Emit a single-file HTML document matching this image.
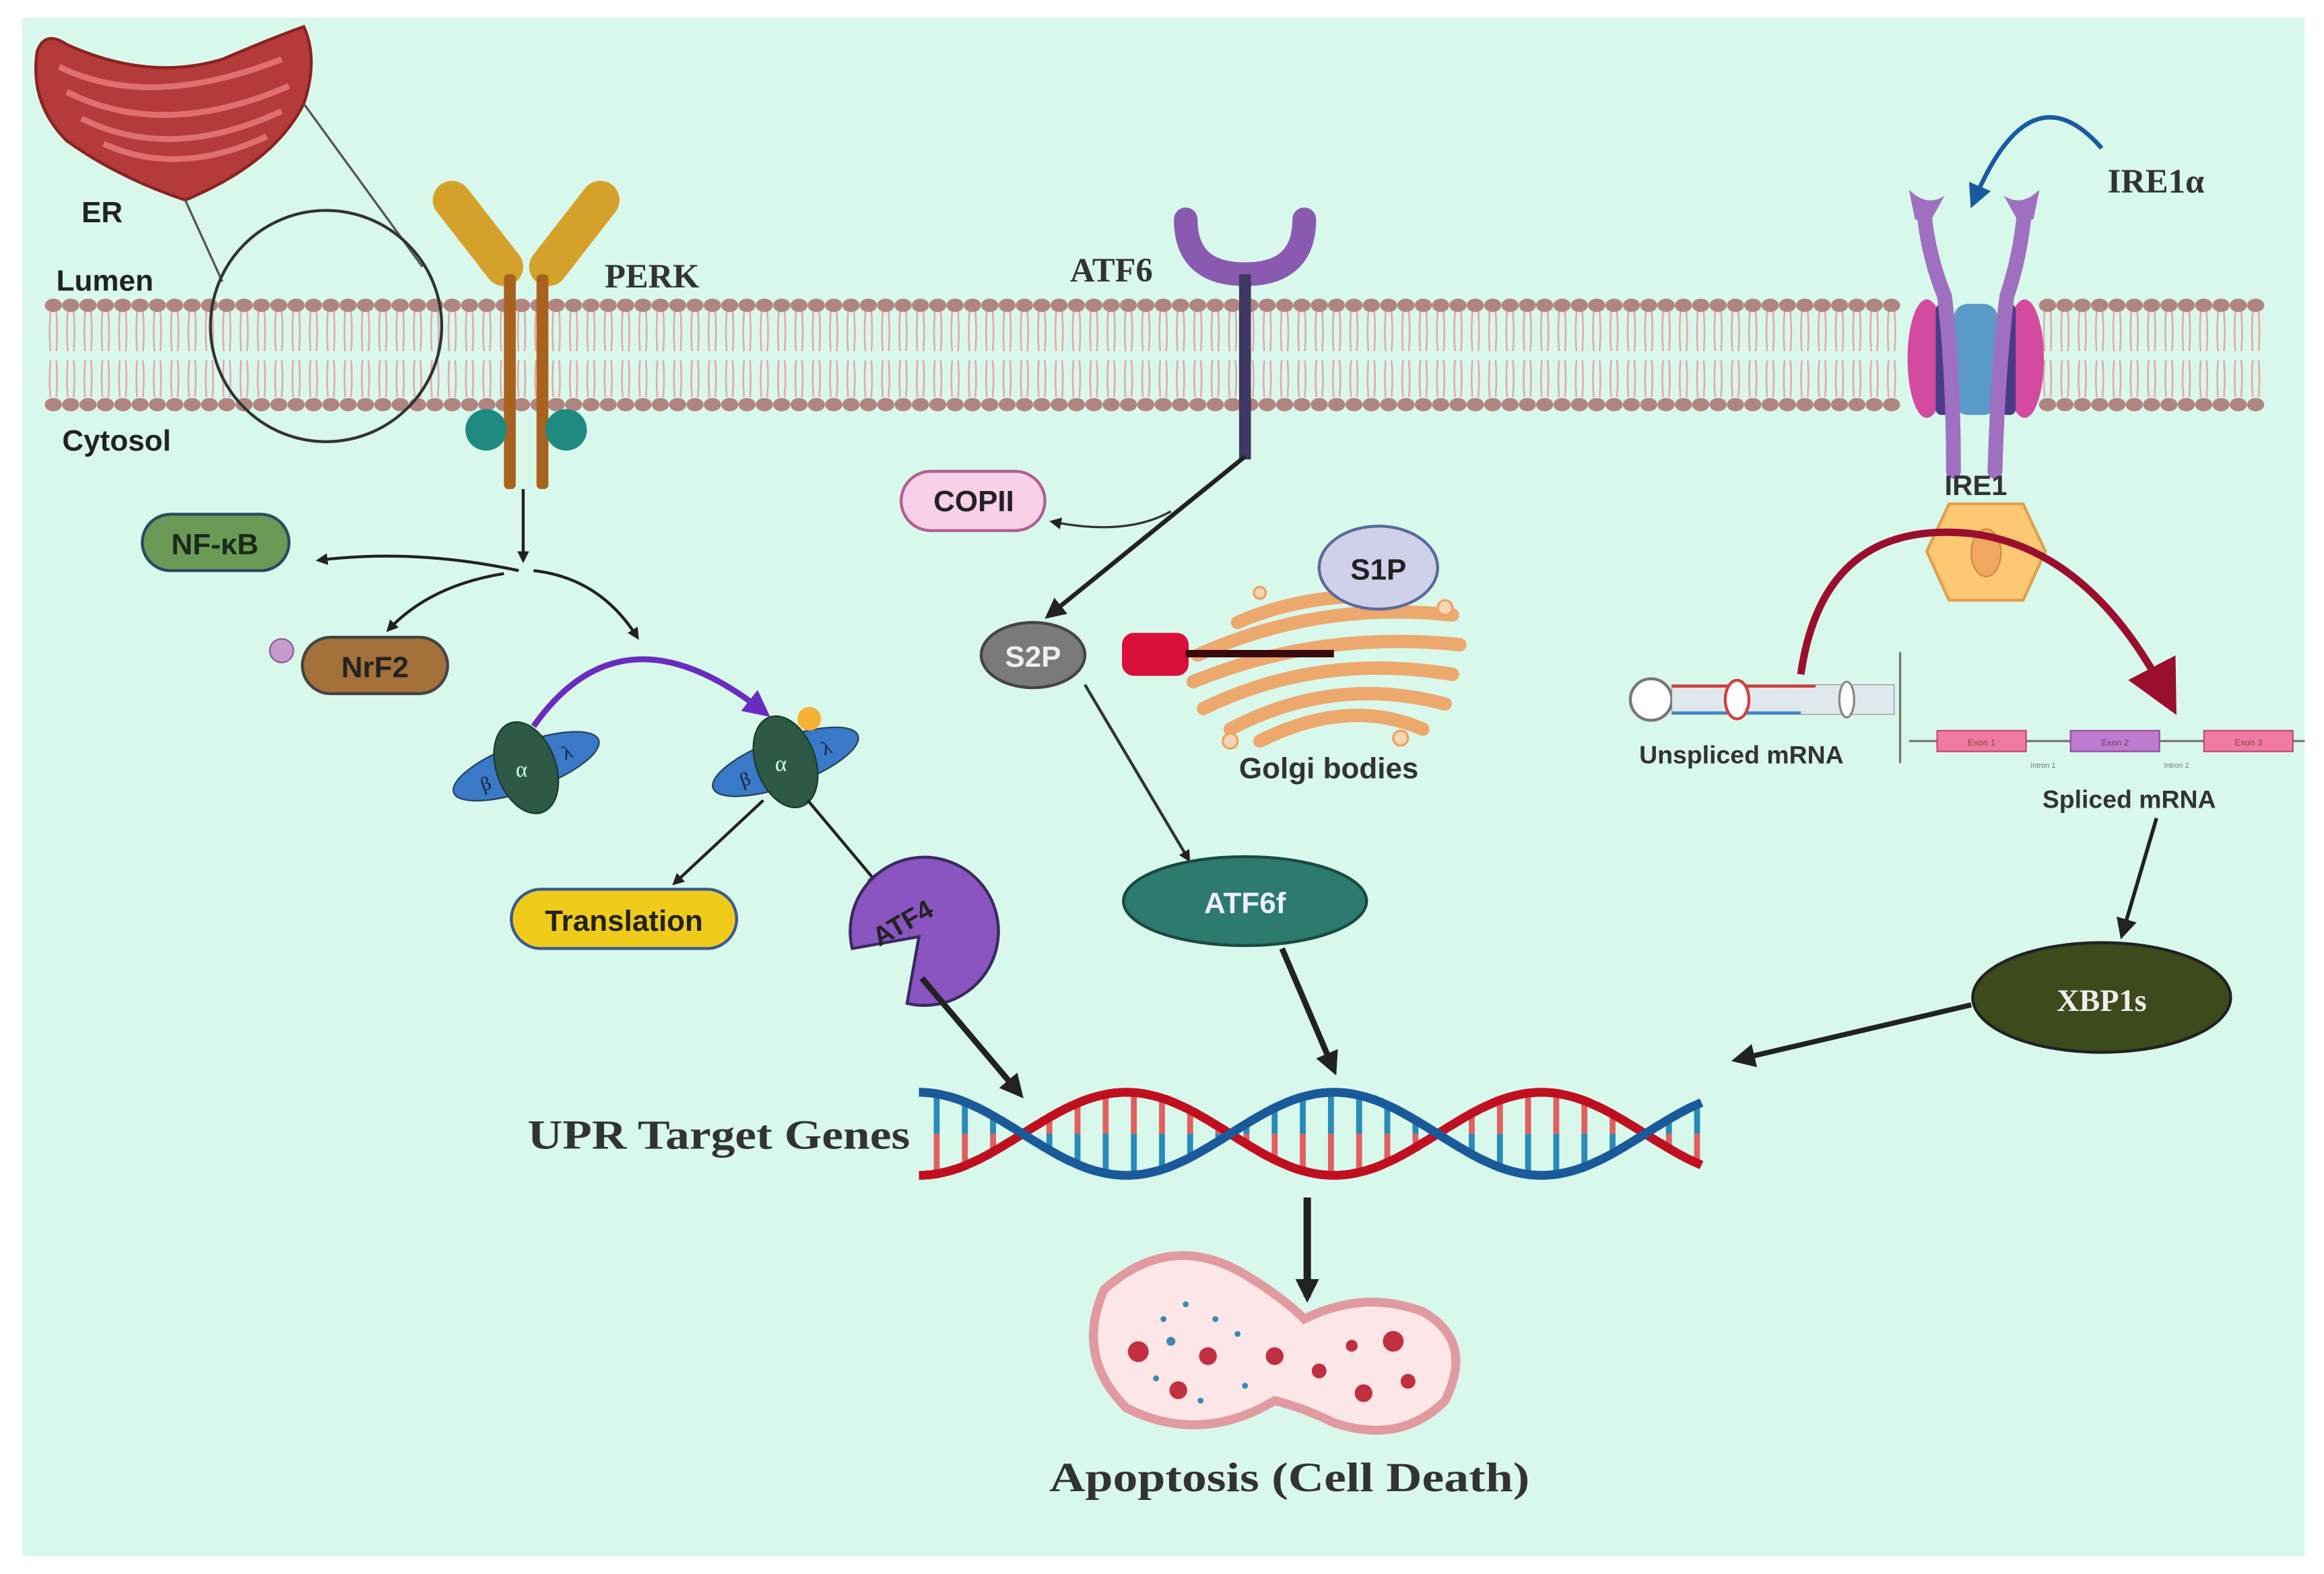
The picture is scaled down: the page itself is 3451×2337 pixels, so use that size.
<!DOCTYPE html>
<html><head><meta charset="utf-8"><style>
html,body{margin:0;padding:0;background:#fff}
svg{display:block}
.sb{font-family:"Liberation Sans",sans-serif;font-weight:bold}
.sf{font-family:"Liberation Serif",serif;font-weight:bold}
</style></head><body>
<svg id="s" width="3451" height="2337" viewBox="0 0 1568 1062" preserveAspectRatio="none" xmlns="http://www.w3.org/2000/svg">
<defs>
<marker id="ah" markerWidth="8" markerHeight="8" refX="6" refY="4" orient="auto" markerUnits="userSpaceOnUse"><path d="M0,0 L8,4 L0,8 Z" fill="#222"/></marker>
<marker id="ahb" markerWidth="16" markerHeight="16" refX="12" refY="8" orient="auto" markerUnits="userSpaceOnUse"><path d="M0,0 L16,8 L0,16 Z" fill="#222"/></marker>
<marker id="ahm" markerWidth="14" markerHeight="14" refX="10" refY="7" orient="auto" markerUnits="userSpaceOnUse"><path d="M0,0 L14,7 L0,14 Z" fill="#222"/></marker>
<marker id="ahp" markerWidth="18" markerHeight="18" refX="12" refY="9" orient="auto" markerUnits="userSpaceOnUse"><path d="M0,0 L18,9 L0,18 Z" fill="#6a2bc0"/></marker>
<marker id="ahr" markerWidth="36" markerHeight="36" refX="22" refY="18" orient="auto" markerUnits="userSpaceOnUse"><path d="M0,0 L36,18 L0,36 Z" fill="#9b0f2e"/></marker>
<marker id="ahbl" markerWidth="16" markerHeight="16" refX="10" refY="8" orient="auto" markerUnits="userSpaceOnUse"><path d="M0,0 L16,8 L0,16 Z" fill="#1a5aa0"/></marker>
</defs>
<rect x="0" y="0" width="1568" height="1062" fill="#fff"/>
<rect x="15" y="12" width="1540" height="1038" fill="#d9f8ec"/>
<g id="mem"></g>

<!-- ER -->
<path d="M25,35 Q30,20 45,30 Q100,55 150,40 Q185,25 205,18 Q215,40 205,70 Q185,110 125,135 Q80,120 45,95 Q20,70 25,35 Z" fill="#b53a3a" stroke="#8a2222" stroke-width="2"/>
<path d="M40,45 Q100,75 190,40 M45,62 Q110,95 195,58 M55,80 Q115,110 190,75 M70,97 Q120,120 180,92" stroke="#e07070" stroke-width="4" fill="none"/>
<line x1="125" y1="135" x2="150" y2="190" stroke="#555" stroke-width="1.5"/>
<line x1="205" y1="70" x2="285" y2="180" stroke="#555" stroke-width="1.5"/>
<circle cx="220" cy="220" r="78" fill="none" stroke="#333" stroke-width="2"/>
<text x="55" y="150" class="sb" font-size="20" fill="#222">ER</text>
<text x="38" y="196" class="sb" font-size="20" fill="#222">Lumen</text>
<text x="42" y="304" class="sb" font-size="20" fill="#222">Cytosol</text>

<!-- PERK -->
<path d="M305,135 L340,180" stroke="#d4a12a" stroke-width="26" stroke-linecap="round"/>
<path d="M405,135 L370,180" stroke="#d4a12a" stroke-width="26" stroke-linecap="round"/>
<rect x="340" y="185" width="8" height="145" rx="3" fill="#a8621e"/>
<rect x="362" y="185" width="8" height="145" rx="3" fill="#a8621e"/>
<circle cx="328" cy="290" r="14" fill="#1f8a80"/>
<circle cx="382" cy="290" r="14" fill="#1f8a80"/>
<text x="408" y="194" class="sf" font-size="23" fill="#333">PERK</text>
<line x1="353" y1="330" x2="353" y2="378" stroke="#222" stroke-width="2" marker-end="url(#ah)"/>
<path d="M350,385 Q280,370 215,378" stroke="#222" stroke-width="2" fill="none" marker-end="url(#ah)"/>
<path d="M340,387 Q290,395 262,425" stroke="#222" stroke-width="2" fill="none" marker-end="url(#ah)"/>
<path d="M360,385 Q405,390 430,430" stroke="#222" stroke-width="2" fill="none" marker-end="url(#ah)"/>
<rect x="96" y="347" width="99" height="38" rx="19" fill="#6b9a56" stroke="#2a4a60" stroke-width="2"/>
<text x="145" y="374" class="sb" font-size="20" text-anchor="middle" fill="#1a2a1a">NF-κB</text>
<circle cx="190" cy="439" r="8" fill="#c99ad0" stroke="#8a5a90"/>
<rect x="204" y="430" width="98" height="38" rx="19" fill="#a5713a" stroke="#444" stroke-width="2"/>
<text x="253" y="457" class="sb" font-size="20" text-anchor="middle" fill="#222">NrF2</text>
<path d="M360,490 Q420,405 515,480" stroke="#6a2bc0" stroke-width="4" fill="none" marker-end="url(#ahp)"/>
<g transform="translate(355,517) rotate(-20)"><ellipse rx="52" ry="16" fill="#3a78c8" stroke="#245"/><text x="-33" y="6" font-size="13" fill="#123">β</text><text x="26" y="5" font-size="13" fill="#123">λ</text></g>
<ellipse cx="355" cy="518" rx="20" ry="32" transform="rotate(-20 355 518)" fill="#2e5a45" stroke="#1a3a2a"/>
<text x="348" y="524" font-size="15" fill="#cfe">α</text>
<g transform="translate(530,514) rotate(-20)"><ellipse rx="52" ry="16" fill="#3a78c8" stroke="#245"/><text x="-33" y="6" font-size="13" fill="#123">β</text><text x="26" y="5" font-size="13" fill="#123">λ</text></g>
<ellipse cx="530" cy="514" rx="20" ry="32" transform="rotate(-20 530 514)" fill="#2e5a45" stroke="#1a3a2a"/>
<text x="523" y="520" font-size="15" fill="#cfe">α</text>
<circle cx="546" cy="485" r="8" fill="#f5b232"/>
<line x1="515" y1="540" x2="455" y2="596" stroke="#222" stroke-width="2" marker-end="url(#ah)"/>
<line x1="545" y1="540" x2="592" y2="596" stroke="#222" stroke-width="2" marker-end="url(#ah)"/>
<rect x="345" y="600" width="152" height="40" rx="20" fill="#f0cc1a" stroke="#3a5a90" stroke-width="2"/>
<text x="421" y="628" class="sb" font-size="20" text-anchor="middle" fill="#222">Translation</text>
<path d="M620,632 L575,640 A50,50 0 1 1 612,677 Z" fill="#8a55c0" stroke="#3a2a60" stroke-width="2"/>
<text x="586" y="628" class="sb" font-size="18" fill="#222" transform="rotate(-30 610 620)">ATF4</text>
<line x1="622" y1="660" x2="688" y2="738" stroke="#222" stroke-width="4" marker-end="url(#ahb)"/>

<!-- ATF6 -->
<path d="M800,148 Q800,185 840,185 Q880,185 880,148" stroke="#8a5ab0" stroke-width="16" fill="none" stroke-linecap="round"/>
<rect x="836" y="185" width="8" height="125" fill="#3f3865"/>
<text x="722" y="190" class="sf" font-size="23" fill="#333">ATF6</text>
<line x1="840" y1="308" x2="708" y2="415" stroke="#222" stroke-width="3" marker-end="url(#ahm)"/>
<path d="M790,345 Q760,362 710,352" stroke="#333" stroke-width="1.5" fill="none" marker-end="url(#ah)"/>
<rect x="608" y="318" width="97" height="40" rx="20" fill="#f8d0ea" stroke="#b06090" stroke-width="2"/>
<text x="657" y="345" class="sb" font-size="20" text-anchor="middle" fill="#222">COPII</text>
<ellipse cx="697" cy="442" rx="35" ry="22" fill="#7a7a7a" stroke="#444" stroke-width="2"/>
<text x="697" y="450" class="sb" font-size="20" text-anchor="middle" fill="#eee">S2P</text>
<g fill="none" stroke="#f0a060" stroke-width="9" stroke-linecap="round" opacity="0.9">
<path d="M808,442 Q890,405 980,415"/><path d="M805,460 Q890,425 985,435"/><path d="M812,478 Q890,440 980,455"/><path d="M830,492 Q900,455 975,475"/><path d="M850,500 Q910,470 960,492"/><path d="M835,420 Q880,400 940,402"/>
</g>
<g fill="#f8d5b5" stroke="#f0a060" stroke-width="1.5"><circle cx="850" cy="400" r="4"/><circle cx="830" cy="500" r="5"/><circle cx="945" cy="498" r="5"/><circle cx="975" cy="410" r="5"/></g>
<rect x="757" y="427" width="45" height="29" rx="8" fill="#d8103a"/>
<line x1="800" y1="441" x2="900" y2="441" stroke="#3a0a0a" stroke-width="5"/>
<ellipse cx="930" cy="383" rx="40" ry="28" fill="#cfd0ea" stroke="#5a6a9a" stroke-width="2"/>
<text x="930" y="391" class="sb" font-size="20" text-anchor="middle" fill="#222">S1P</text>
<text x="836" y="525" class="sb" font-size="20" fill="#333">Golgi bodies</text>
<line x1="732" y1="462" x2="802" y2="580" stroke="#333" stroke-width="2" marker-end="url(#ah)"/>
<ellipse cx="840" cy="608" rx="82" ry="30" fill="#2d7a6e" stroke="#1a4a40" stroke-width="2"/>
<text x="840" y="616" class="sb" font-size="20" text-anchor="middle" fill="#eef">ATF6f</text>
<line x1="865" y1="640" x2="900" y2="722" stroke="#222" stroke-width="4" marker-end="url(#ahb)"/>

<!-- IRE1 -->
<text x="1422" y="130" class="sf" font-size="23" fill="#333">IRE1α</text>
<path d="M1418,100 Q1370,45 1332,135" stroke="#1a5aa0" stroke-width="3" fill="none" marker-end="url(#ahbl)"/>
<ellipse cx="1300" cy="242" rx="13" ry="40" fill="#d44aa0"/>
<ellipse cx="1366" cy="242" rx="13" ry="40" fill="#d44aa0"/>
<rect x="1306" y="205" width="10" height="75" rx="4" fill="#4a3a8a"/>
<rect x="1350" y="205" width="10" height="75" rx="4" fill="#4a3a8a"/>
<rect x="1318" y="205" width="30" height="75" rx="10" fill="#5a9ac8"/>
<path d="M1298,140 Q1300,170 1312,200 Q1318,250 1318,318" stroke="#a070c0" stroke-width="10" fill="none" stroke-linecap="round"/>
<path d="M1366,140 Q1364,170 1354,200 Q1348,250 1346,318" stroke="#a070c0" stroke-width="10" fill="none" stroke-linecap="round"/>
<path d="M1288,128 Q1300,140 1312,132 L1302,150 L1292,148 Z" fill="#a070c0"/>
<path d="M1376,128 Q1364,140 1352,132 L1362,150 L1372,148 Z" fill="#a070c0"/>
<text x="1312" y="334" class="sb" font-size="19" fill="#333">IRE1</text>
<path d="M1315,340 L1365,340 L1380,372 L1365,405 L1315,405 L1300,372 Z" fill="#fcc873" stroke="#e0a050" stroke-width="2"/>
<ellipse cx="1340" cy="373" rx="10" ry="16" fill="#f0a860" stroke="#d08a40"/>
<path d="M1215,455 Q1230,350 1330,360 Q1410,370 1462,470" stroke="#9b0f2e" stroke-width="5" fill="none" marker-end="url(#ahr)"/>
<circle cx="1114" cy="472" r="14" fill="#fff" stroke="#777" stroke-width="2"/>
<rect x="1128" y="462" width="150" height="20" fill="#e0e8ee" stroke="#888" stroke-width="0.5"/>
<line x1="1128" y1="463" x2="1225" y2="463" stroke="#d04040" stroke-width="2"/>
<line x1="1128" y1="481" x2="1215" y2="481" stroke="#3a8ac8" stroke-width="2"/>
<ellipse cx="1172" cy="472" rx="8" ry="13" fill="#fff" stroke="#d04040" stroke-width="2"/>
<ellipse cx="1246" cy="472" rx="5" ry="12" fill="#fff" stroke="#888" stroke-width="1.5"/>
<line x1="1282" y1="440" x2="1282" y2="515" stroke="#777" stroke-width="1.5"/>
<text x="1106" y="515" class="sb" font-size="17" fill="#333">Unspliced mRNA</text>
<line x1="1288" y1="500" x2="1555" y2="500" stroke="#777" stroke-width="1.5"/>
<rect x="1307" y="493" width="60" height="14" fill="#f07aa0" stroke="#c04a70"/>
<rect x="1397" y="493" width="60" height="14" fill="#c07ad0" stroke="#9050a0"/>
<rect x="1487" y="493" width="60" height="14" fill="#f07aa0" stroke="#c04a70"/>
<text x="1337" y="503" font-size="6" text-anchor="middle" fill="#844" font-family="Liberation Sans">Exon 1</text>
<text x="1427" y="503" font-size="6" text-anchor="middle" fill="#646" font-family="Liberation Sans">Exon 2</text>
<text x="1517" y="503" font-size="6" text-anchor="middle" fill="#844" font-family="Liberation Sans">Exon 3</text>
<text x="1370" y="518" font-size="5" fill="#777" font-family="Liberation Sans">Intron 1</text>
<text x="1460" y="518" font-size="5" fill="#777" font-family="Liberation Sans">Intron 2</text>
<text x="1378" y="545" class="sb" font-size="17" fill="#333">Spliced mRNA</text>
<line x1="1455" y1="552" x2="1432" y2="630" stroke="#222" stroke-width="2.5" marker-end="url(#ahm)"/>
<ellipse cx="1418" cy="673" rx="87" ry="37" fill="#3c4a1c" stroke="#222" stroke-width="2"/>
<text x="1418" y="682" class="sf" font-size="21" text-anchor="middle" fill="#eee">XBP1s</text>
<line x1="1330" y1="678" x2="1172" y2="715" stroke="#222" stroke-width="3.5" marker-end="url(#ahb)"/>

<!-- DNA -->
<g id="dna"></g>
<text x="356" y="775" class="sf" font-size="28" fill="#333" textLength="258" lengthAdjust="spacingAndGlyphs">UPR Target Genes</text>
<line x1="882" y1="808" x2="882" y2="875" stroke="#222" stroke-width="5" marker-end="url(#ahb)"/>

<!-- apoptosis cell -->
<path d="M745,870 Q790,830 840,860 Q865,875 880,890 Q920,870 960,885 Q995,905 975,945 Q945,975 900,960 Q880,950 860,945 Q810,975 760,950 Q725,915 745,870 Z" fill="#fce6e8" stroke="#e09aa0" stroke-width="6"/>
<g fill="#c03040"><circle cx="768" cy="912" r="7"/><circle cx="795" cy="938" r="6"/><circle cx="815" cy="915" r="6"/><circle cx="860" cy="915" r="6"/><circle cx="890" cy="925" r="5"/><circle cx="940" cy="905" r="7"/><circle cx="920" cy="940" r="6"/><circle cx="950" cy="932" r="5"/><circle cx="912" cy="908" r="4"/></g>
<g fill="#3a8ab0"><circle cx="785" cy="890" r="2"/><circle cx="800" cy="880" r="2"/><circle cx="820" cy="890" r="2"/><circle cx="790" cy="905" r="3"/><circle cx="835" cy="900" r="2"/><circle cx="780" cy="930" r="2"/><circle cx="810" cy="945" r="2"/><circle cx="840" cy="935" r="2"/></g>
<text x="708" y="1006" class="sf" font-size="28" fill="#333" textLength="324" lengthAdjust="spacingAndGlyphs">Apoptosis (Cell Death)</text>
</svg>
<script>
var NS="http://www.w3.org/2000/svg";
function el(p,t,a){var e=document.createElementNS(NS,t);for(var k in a)e.setAttribute(k,a[k]);p.appendChild(e);return e;}
var m=document.getElementById("mem");
for(var x=36;x<=1528;x+=11.7){
 if(x>1285&&x<1380)continue;
 el(m,"path",{d:"M"+(x-2)+",210 Q"+(x-3)+",225 "+(x-2)+",237 M"+(x+2)+",210 Q"+(x+3)+",225 "+(x+2)+",237 M"+(x-2)+",243 Q"+(x-3)+",255 "+(x-2)+",268 M"+(x+2)+",243 Q"+(x+3)+",255 "+(x+2)+",268",stroke:"#e8a8a8","stroke-width":"1.2",fill:"none"});
 el(m,"ellipse",{cx:x,cy:206,rx:5.8,ry:4.5,fill:"#b08580"});
 el(m,"ellipse",{cx:x,cy:273,rx:5.8,ry:4.5,fill:"#b08580"});
}
var d=document.getElementById("dna");
var x0=620,x1=1148,P=280,ph=690,cy=765,A=28;
function y1(x){return cy-A*Math.sin(2*Math.PI*(x-ph)/P);}
function y2(x){return cy+A*Math.sin(2*Math.PI*(x-ph)/P);}
for(var x=x0+12;x<x1;x+=19){
 var a=y1(x),b=y2(x),mid=(a+b)/2;
 el(d,"line",{x1:x,y1:a,x2:x,y2:mid,stroke:"#e06060","stroke-width":4});
 el(d,"line",{x1:x,y1:mid,x2:x,y2:b,stroke:"#2a8ab8","stroke-width":4});
}
var p1="",p2="";
for(var x=x0;x<=x1;x+=2){p1+=(x==x0?"M":"L")+x+","+y1(x).toFixed(1);p2+=(x==x0?"M":"L")+x+","+y2(x).toFixed(1);}
el(d,"path",{d:p1,stroke:"#c01020","stroke-width":6,fill:"none"});
el(d,"path",{d:p2,stroke:"#1a5a9a","stroke-width":6,fill:"none"});
</script>
</body></html>
